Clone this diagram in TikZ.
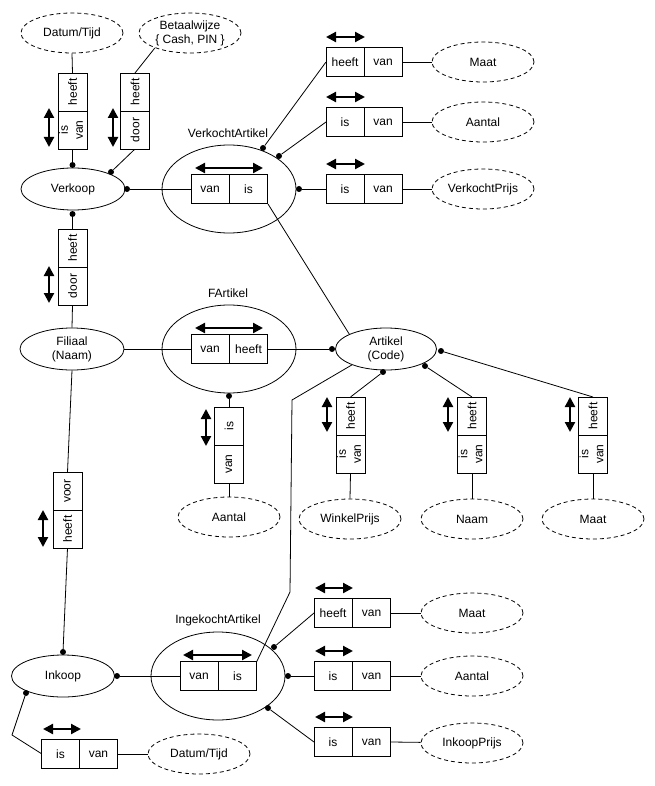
\documentclass[tikz,border=0pt]{standalone}
\usepackage{fontspec}
\setmainfont{Liberation Sans}
\usetikzlibrary{shapes.geometric,arrows.meta,calc}
\newcommand{\vtext}[1]{\rotatebox{90}{#1}}
\newcommand{\vtwo}[2]{\rotatebox{90}{\begin{tabular}{@{}c@{}}#1\\[1pt]#2\end{tabular}}}
\begin{document}
\begin{tikzpicture}[x=1pt,y=-1pt,
  every node/.style={font=\fontsize{12}{14}\selectfont},
  ln/.style={line width=0.8pt},
  cell/.style={draw, fill=white, line width=0.9pt, minimum width=38pt, minimum height=29pt, inner sep=0pt},
  vcell/.style={draw, fill=white, line width=0.9pt, minimum width=29pt, minimum height=38pt, inner sep=0pt},
  attr/.style={draw, dash pattern=on 4pt off 3pt, line width=0.8pt, ellipse, minimum width=102pt, minimum height=40pt, inner sep=0pt, align=center},
  ent/.style={draw, ellipse, line width=0.8pt, minimum width=104pt, minimum height=42pt, inner sep=0pt, align=center},
  obj/.style={draw, ellipse, line width=0.8pt, minimum width=134pt, minimum height=88pt, inner sep=0pt},
  dot/.style={circle, fill, inner sep=0pt, minimum size=6pt},
  dbl/.style={line width=2.2pt, {Triangle[length=10pt,width=10pt]}-{Triangle[length=10pt,width=10pt]}},
]
\useasboundingbox (0,0) rectangle (655,786);

% ---------- big objectified ellipses ----------
\node[obj] (va) at (229,189) {};
\node[obj] (fa) at (229,349) {};
\node[obj] (ia) at (218,676) {};
\node (valbl) at (228,133) {VerkochtArtikel};
\node (falbl) at (228,293) {FArtikel};
\node (ialbl) at (218,620) {IngekochtArtikel};

% ---------- entities ----------
\node[ent] (verkoop) at (73,189) {Verkoop};
\node[ent] (filiaal) at (72,349) {Filiaal\\(Naam)};
\node[ent, minimum width=101pt] (art) at (386,349) {Artikel\\(Code)};
\node[ent, minimum width=103pt] (inkoop) at (63,676) {Inkoop};

% ---------- attribute ellipses ----------
\node[attr] (dtA) at (72,33) {Datum/Tijd};
\node[attr] (bw) at (190,33) {Betaalwijze\\\{ Cash, PIN \}};
\node[attr] (maat1) at (483,62) {Maat};
\node[attr] (aantal1) at (483,122) {Aantal};
\node[attr] (vprijs) at (483,189) {VerkochtPrijs};
\node[attr] (aantal2) at (229,517) {Aantal};
\node[attr] (wprijs) at (350,519) {WinkelPrijs};
\node[attr] (naam) at (472,519) {Naam};
\node[attr] (maat2) at (593,519) {Maat};
\node[attr] (maat3) at (472,613) {Maat};
\node[attr] (aantal3) at (472,676) {Aantal};
\node[attr] (iprijs) at (472,743) {InkoopPrijs};
\node[attr] (dtB) at (199,754) {Datum/Tijd};

% ---------- dots ----------
\node[dot] (vk1) at (72.5,165) {};
\node[dot] (vk2) at (111,172) {};
\node[dot] (vk3) at (127,189) {};
\node[dot] (vk4) at (72.5,214) {};
\node[dot] (vad1) at (263,148) {};
\node[dot] (vad2) at (279,156) {};
\node[dot] (vad3) at (299,189) {};
\node[dot] (fad) at (229,396) {};
\node[dot] (ar1) at (332,349) {};
\node[dot] (ar2) at (441,351) {};
\node[dot] (ar3) at (383,372) {};
\node[dot] (ar4) at (425,366) {};
\node[dot] (ik1) at (63,652) {};
\node[dot] (ik2) at (117,676) {};
\node[dot] (ik3) at (26,693) {};
\node[dot] (iad1) at (274,647) {};
\node[dot] (iad2) at (288,676) {};
\node[dot] (iad3) at (268,708) {};

% ---------- connectors (drawn under boxes) ----------
\draw[ln] (dtA.south) -- (72.5,73);
\draw[ln] (bw.203) -- (135,73);
\draw[ln] (72.5,149) -- (vk1);
\draw[ln] (135,149) -- (vk2);
\draw[ln] (vk3) -- (191,189);
\draw[ln] (vk4) -- (72.5,229);
\draw[ln] (72.5,305) -- (filiaal.north);
\draw[ln] (vad1) -- (326,62);
\draw[ln] (vad2) -- (326,122);
\draw[ln] (vad3) -- (326,189);
\draw[ln] (402,62) -- (maat1);
\draw[ln] (402,122) -- (aantal1);
\draw[ln] (402,189) -- (vprijs);
\draw[ln] (268,204) -- (art.158);
\draw[ln] (filiaal.east) -- (191,349);
\draw[ln] (267,349) -- (ar1);
\draw[ln] (fad) -- (229,407);
\draw[ln] (229,483) -- (aantal2.north);
\draw[ln] (ar3) -- (350.5,397);
\draw[ln] (ar4) -- (472,397);
\draw[ln] (ar2) -- (593,397);
\draw[ln] (350.5,473) -- (wprijs.north);
\draw[ln] (472,473) -- (naam.north);
\draw[ln] (593,473) -- (maat2.north);
\draw[ln] (filiaal.south) -- (67.5,472);
\draw[ln] (67.5,548) -- (ik1);
\draw[ln] (ik2) -- (180,676);
\draw[ln] (art.205) -- (292,400) -- (290,592) -- (256.5,662);
\draw[ln] (iad1) -- (314,613);
\draw[ln] (iad2) -- (314,676);
\draw[ln] (iad3) -- (314,742);
\draw[ln] (391,613) -- (maat3);
\draw[ln] (391,676) -- (aantal3);
\draw[ln] (391,742) -- (iprijs);
\draw[ln] (ik3) -- (12,735) -- (42,754);
\draw[ln] (117,754) -- (dtB);

% ---------- role boxes ----------
% Verkoop - Datum/Tijd
\node[vcell] (r1a) at (72.5,92) {\vtext{heeft}};
\node[vcell] (r1b) at (72.5,130) {\vtwo{is}{van}};
\draw[dbl] (49,108) -- (49,147);
% Verkoop - Betaalwijze
\node[vcell] (r2a) at (135,92) {\vtext{heeft}};
\node[vcell] (r2b) at (135,130) {\vtext{door}};
\draw[dbl] (113,108) -- (113,147);
% Verkoop - Filiaal
\node[vcell] (r3a) at (72.5,248) {\vtext{heeft}};
\node[vcell] (r3b) at (72.5,286) {\vtext{door}};
\draw[dbl] (49,266) -- (49,303);
% Filiaal - Inkoop
\node[vcell] (r4a) at (67.5,491) {\vtext{voor}};
\node[vcell] (r4b) at (67.5,529) {\vtext{heeft}};
\draw[dbl] (43,510) -- (43,547);

% VerkochtArtikel
\node[cell] (va1) at (210,189) {van};
\node[cell] (va2) at (248.5,189) {is};
\draw[dbl] (195,168) -- (263,168);
% FArtikel
\node[cell] (fa1) at (210,349) {van};
\node[cell] (fa2) at (248.5,349) {heeft};
\draw[dbl] (195,328) -- (263,328);
% IngekochtArtikel
\node[cell] (ia1) at (199,676) {van};
\node[cell] (ia2) at (237.5,676) {is};
\draw[dbl] (183,655) -- (252,655);

% Verkocht attributes
\node[cell] (vb1a) at (345,62) {heeft};
\node[cell] (vb1b) at (383,62) {van};
\draw[dbl] (326,37) -- (365,37);
\node[cell] (vb2a) at (345,122) {is};
\node[cell] (vb2b) at (383,122) {van};
\draw[dbl] (326,97) -- (365,97);
\node[cell] (vb3a) at (345,189) {is};
\node[cell] (vb3b) at (383,189) {van};
\draw[dbl] (326,164) -- (365,164);

% FArtikel - Aantal
\node[vcell] (fra) at (229,426) {\vtext{is}};
\node[vcell] (frb) at (229,464) {\vtext{van}};
\draw[dbl] (206,409) -- (206,446);

% Artikel attributes
\node[vcell] (aba) at (350.5,416) {\vtext{heeft}};
\node[vcell] (abb) at (350.5,454) {\vtwo{is}{van}};
\draw[dbl] (327,397) -- (327,432);
\node[vcell] (aca) at (472,416) {\vtext{heeft}};
\node[vcell] (acb) at (472,454) {\vtwo{is}{van}};
\draw[dbl] (448,397) -- (448,432);
\node[vcell] (ada) at (593,416) {\vtext{heeft}};
\node[vcell] (adb) at (593,454) {\vtwo{is}{van}};
\draw[dbl] (570,397) -- (570,432);

% Ingekocht attributes
\node[cell] (gb1a) at (333,613) {heeft};
\node[cell] (gb1b) at (371.5,613) {van};
\draw[dbl] (315,588) -- (353,588);
\node[cell] (gb2a) at (333,676) {is};
\node[cell] (gb2b) at (371.5,676) {van};
\draw[dbl] (315,651) -- (353,651);
\node[cell] (gb3a) at (333,742) {is};
\node[cell] (gb3b) at (371.5,742) {van};
\draw[dbl] (315,717) -- (353,717);

% Inkoop - Datum/Tijd
\node[cell] (ib1) at (60.5,754) {is};
\node[cell] (ib2) at (98.5,754) {van};
\draw[dbl] (43,729) -- (81,729);
\end{tikzpicture}
\end{document}
